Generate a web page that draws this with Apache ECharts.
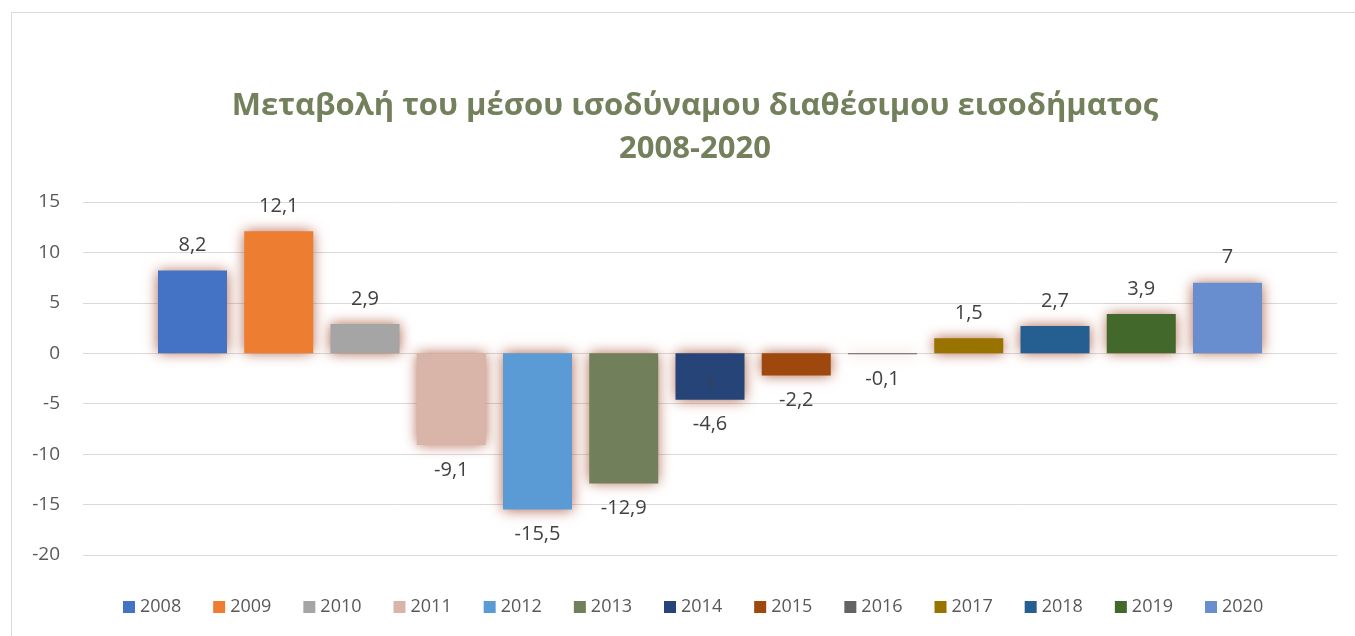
<!DOCTYPE html>
<html>
<head>
<meta charset="utf-8">
<script src="https://cdn.jsdelivr.net/npm/echarts@6/dist/echarts.min.js"></script>
<style>
  html, body { margin: 0; padding: 0; background: #fff; }
  #chart { width: 1355px; height: 636px; }
</style>
</head>
<body>
<div id="chart"></div>
<script>
// data
const years = ["2008", "2009", "2010", "2011", "2012", "2013", "2014", "2015", "2016", "2017", "2018", "2019", "2020"];
const changes = [8.2, 12.1, 2.9, -9.1, -15.5, -12.9, -4.6, -2.2, -0.1, 1.5, 2.7, 3.9, 7];
const colors = ["#4472C4", "#ED7D31", "#A5A5A5", "#D8B5A8", "#5B9BD5", "#717F5B", "#264478", "#9E480E", "#636363", "#997300", "#255E91", "#43682B", "#698ED0"];
const yTicks = [-20, -15, -10, -5, 0, 5, 10, 15];

const fontFam = "'Open Sans', 'Noto Sans', sans-serif";

const series = years.map((y, i) => {
  const v = changes[i];
  const s = {
    name: y,
    type: "bar",
    data: [v],
    barWidth: 69,
    barGap: "25%",
    itemStyle: {
      color: colors[i],
      // pinkish glow round each bar
      shadowBlur: 13,
      shadowColor: "rgb(175,100,75)",
    },
    label: {
      show: true,
      position: v >= 0 ? "top" : "bottom",
      distance: 15,
      color: "#404040",
      fontSize: 20,
      fontFamily: fontFam,
      formatter: (p) => String(p.value).replace(".", ","),
    },
  };
  // stray "1" label sitting inside the 2014 bar
  if (y === "2014") {
    s.markPoint = {
      symbol: "rect",
      symbolSize: 0,
      data: [{ coord: [0, -3.1], value: 1 }],
      label: { show: true, position: "inside", color: "rgba(64,64,64,0.6)", fontSize: 20, fontFamily: fontFam, formatter: "1" },
    };
  }
  return s;
});

const chart = echarts.init(document.getElementById("chart"));
chart.setOption({
  animation: false,
  color: colors,
  title: {
    text: "Μεταβολή του μέσου ισοδύναμου διαθέσιμου εισοδήματος\n2008-2020",
    left: 690,
    textAlign: "center",
    top: 80,
    textStyle: {
      color: "#72805C",
      fontSize: 31,
      fontWeight: "bold",
      fontFamily: fontFam,
      lineHeight: 43,
    },
  },
  graphic: [
    {
      type: "polyline",
      shape: { points: [[11.5, 640], [11.5, 12.5], [1360, 12.5]] },
      style: { stroke: "#d9d9d9", fill: null, lineWidth: 1 },
      silent: true,
    },
  ],
  legend: {
    bottom: 20,
    left: 123,
    padding: 0,
    itemWidth: 12,
    itemHeight: 12,
    itemGap: 32,
    icon: "rect",
    itemStyle: { shadowBlur: 0, shadowColor: "transparent" },
    textStyle: { color: "#595959", fontSize: 18, fontFamily: fontFam },
    data: years,
  },
  grid: { left: 83, right: 18, top: 202, bottom: 81 },
  xAxis: {
    type: "category",
    data: [""],
    axisLine: { show: false },
    axisTick: { show: false },
    axisLabel: { show: false },
  },
  yAxis: {
    type: "value",
    min: yTicks[0],
    max: yTicks[yTicks.length - 1],
    interval: 5,
    axisLine: { show: false },
    axisTick: { show: false },
    axisLabel: { color: "#595959", fontSize: 19, fontFamily: fontFam, margin: 23 },
    splitLine: { lineStyle: { color: "#d9d9d9", width: 1 } },
  },
  series: series,
});
</script>
</body>
</html>
